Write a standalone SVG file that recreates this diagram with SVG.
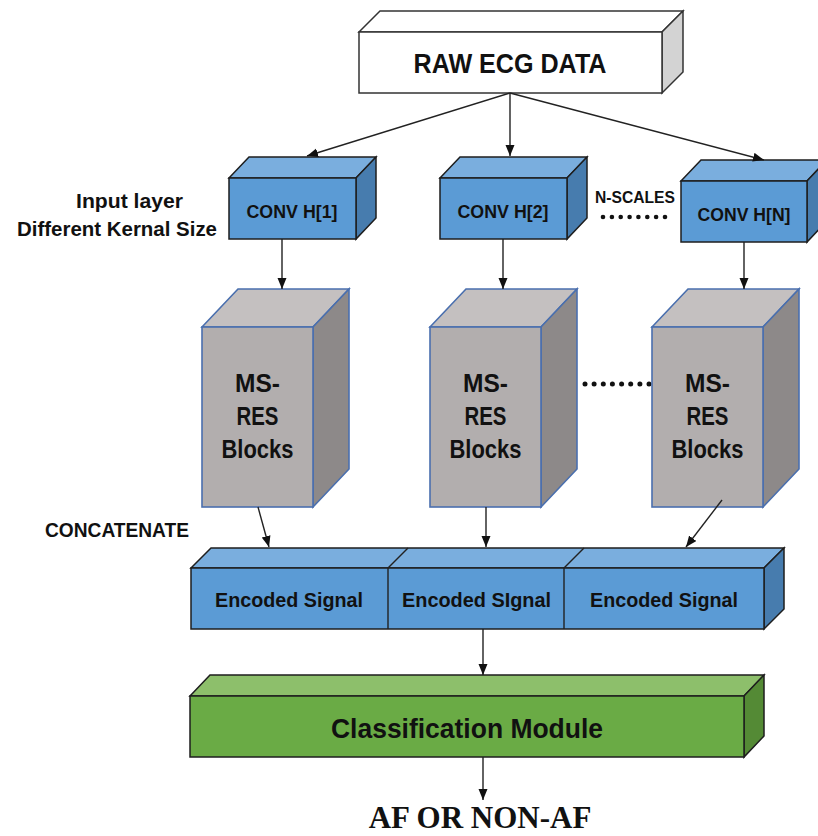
<svg xmlns="http://www.w3.org/2000/svg" width="818" height="836" viewBox="0 0 818 836">
  <style>
    .lbl { font-family: "Liberation Sans", Arial, sans-serif; font-weight: bold; fill: #111; }
    .serif { font-family: "Liberation Serif", "Times New Roman", serif; font-weight: bold; fill: #111; }
    .edge { stroke: #222; stroke-width: 1.4; fill: none; }
    .w-front { fill: #ffffff; stroke: #333; stroke-width: 1.5; }
    .w-top { fill: #ffffff; stroke: #333; stroke-width: 1.5; }
    .w-side { fill: #d3d3d3; stroke: #333; stroke-width: 1.5; }
    .b-front { fill: #5b9bd5; stroke: #1e1e1e; stroke-width: 1.5; }
    .b-top { fill: #7aaede; stroke: #1e1e1e; stroke-width: 1.5; }
    .b-side { fill: #477cae; stroke: #1e1e1e; stroke-width: 1.5; }
    .g-front { fill: #6aab45; stroke: #1e1e1e; stroke-width: 1.5; }
    .g-top { fill: #8dbf6b; stroke: #1e1e1e; stroke-width: 1.5; }
    .g-side { fill: #548a35; stroke: #1e1e1e; stroke-width: 1.5; }
    .m-front { fill: #b2aeae; stroke: #4a6fae; stroke-width: 1.6; }
    .m-top { fill: #c4c0c0; stroke: #4a6fae; stroke-width: 1.6; }
    .m-side { fill: #8d8989; stroke: #4a6fae; stroke-width: 1.6; }
    .dot { fill: #111; }
  </style>
  <defs>
    <marker id="arrow" markerUnits="userSpaceOnUse" markerWidth="12" markerHeight="10" refX="11" refY="4.5" orient="auto">
      <path d="M0,0 L11,4.5 L0,9 z" fill="#111"/>
    </marker>
  </defs>

  <rect width="818" height="836" fill="#ffffff"/>

  <!-- input box -->
  <g id="raw-ecg">
    <polygon class="w-top" points="359,32 380,11 683,11 662,32"/>
    <polygon class="w-side" points="662,32 683,11 683,72 662,93"/>
    <rect class="w-front" x="359" y="32" width="303" height="61"/>
    <text class="lbl" x="510" y="73" font-size="27" text-anchor="middle" textLength="193" lengthAdjust="spacingAndGlyphs">RAW ECG DATA</text>
  </g>

  <!-- convolution heads -->
  <g id="conv-h1">
    <polygon class="b-top" points="229,178 249,157 376,157 356,178"/>
    <polygon class="b-side" points="356,178 376,157 376,218 356,239"/>
    <rect class="b-front" x="229" y="178" width="127" height="61"/>
    <text class="lbl" x="292" y="218" font-size="18.5" text-anchor="middle" textLength="91" lengthAdjust="spacingAndGlyphs">CONV H[1]</text>
  </g>
  <g id="conv-h2">
    <polygon class="b-top" points="440,178 460,157 587,157 567,178"/>
    <polygon class="b-side" points="567,178 587,157 587,218 567,239"/>
    <rect class="b-front" x="440" y="178" width="127" height="61"/>
    <text class="lbl" x="503" y="218" font-size="18.5" text-anchor="middle" textLength="91" lengthAdjust="spacingAndGlyphs">CONV H[2]</text>
  </g>
  <g id="conv-hn">
    <polygon class="b-top" points="681,181 701,160 827,160 807,181"/>
    <polygon class="b-side" points="807,181 827,160 827,221 807,242"/>
    <rect class="b-front" x="681" y="181" width="126" height="61"/>
    <text class="lbl" x="744" y="221" font-size="18.5" text-anchor="middle" textLength="93" lengthAdjust="spacingAndGlyphs">CONV H[N]</text>
  </g>

  <!-- side labels -->
  <g id="labels">
    <text class="lbl" x="129.5" y="208" font-size="20" text-anchor="middle" textLength="107" lengthAdjust="spacingAndGlyphs">Input layer</text>
    <text class="lbl" x="117" y="236" font-size="20" text-anchor="middle" textLength="200" lengthAdjust="spacingAndGlyphs">Different Kernal Size</text>
    <text class="lbl" x="635" y="203" font-size="16.5" text-anchor="middle" textLength="80" lengthAdjust="spacingAndGlyphs">N-SCALES</text>
    <g class="dot">
      <circle cx="603" cy="217" r="2.3"/><circle cx="611.9" cy="217" r="2.3"/><circle cx="620.7" cy="217" r="2.3"/><circle cx="629.6" cy="217" r="2.3"/>
      <circle cx="638.4" cy="217" r="2.3"/><circle cx="647.3" cy="217" r="2.3"/><circle cx="656.1" cy="217" r="2.3"/><circle cx="665" cy="217" r="2.3"/>
    </g>
    <text class="lbl" x="45" y="537" font-size="19.5" textLength="144" lengthAdjust="spacingAndGlyphs">CONCATENATE</text>
    <g class="dot">
      <circle cx="585" cy="384" r="2.5"/><circle cx="594.1" cy="384" r="2.5"/><circle cx="603.3" cy="384" r="2.5"/><circle cx="612.4" cy="384" r="2.5"/>
      <circle cx="621.6" cy="384" r="2.5"/><circle cx="630.7" cy="384" r="2.5"/><circle cx="639.9" cy="384" r="2.5"/><circle cx="649" cy="384" r="2.5"/>
    </g>
  </g>

  <!-- residual block stacks -->
  <g id="msres-1">
    <polygon class="m-top" points="202,327 238,289 349,289 313,327"/>
    <polygon class="m-side" points="313,327 349,289 349,469 313,507"/>
    <rect class="m-front" x="202" y="327" width="111" height="180"/>
    <text class="lbl" x="257.5" y="392" font-size="25" text-anchor="middle" textLength="45" lengthAdjust="spacingAndGlyphs">MS-</text>
    <text class="lbl" x="257.5" y="425" font-size="25" text-anchor="middle" textLength="42" lengthAdjust="spacingAndGlyphs">RES</text>
    <text class="lbl" x="257.5" y="458" font-size="25" text-anchor="middle" textLength="72" lengthAdjust="spacingAndGlyphs">Blocks</text>
  </g>
  <g id="msres-2">
    <polygon class="m-top" points="430,327 466,289 577,289 541,327"/>
    <polygon class="m-side" points="541,327 577,289 577,469 541,507"/>
    <rect class="m-front" x="430" y="327" width="111" height="180"/>
    <text class="lbl" x="485.5" y="392" font-size="25" text-anchor="middle" textLength="45" lengthAdjust="spacingAndGlyphs">MS-</text>
    <text class="lbl" x="485.5" y="425" font-size="25" text-anchor="middle" textLength="42" lengthAdjust="spacingAndGlyphs">RES</text>
    <text class="lbl" x="485.5" y="458" font-size="25" text-anchor="middle" textLength="72" lengthAdjust="spacingAndGlyphs">Blocks</text>
  </g>
  <g id="msres-n">
    <polygon class="m-top" points="652,327 688,289 799,289 763,327"/>
    <polygon class="m-side" points="763,327 799,289 799,469 763,507"/>
    <rect class="m-front" x="652" y="327" width="111" height="180"/>
    <text class="lbl" x="707.5" y="392" font-size="25" text-anchor="middle" textLength="45" lengthAdjust="spacingAndGlyphs">MS-</text>
    <text class="lbl" x="707.5" y="425" font-size="25" text-anchor="middle" textLength="42" lengthAdjust="spacingAndGlyphs">RES</text>
    <text class="lbl" x="707.5" y="458" font-size="25" text-anchor="middle" textLength="72" lengthAdjust="spacingAndGlyphs">Blocks</text>
  </g>

  <!-- concatenated encoding bar -->
  <g id="encoded">
    <polygon class="b-top" points="191,568 211,548 784,548 764,568"/>
    <polygon class="b-side" points="764,568 784,548 784,609 764,629"/>
    <rect class="b-front" x="191" y="568" width="573" height="61"/>
    <line class="edge" x1="388" y1="568" x2="408" y2="548" stroke="#1e1e1e"/>
    <line class="edge" x1="564" y1="568" x2="584" y2="548" stroke="#1e1e1e"/>
    <line class="edge" x1="388" y1="568" x2="388" y2="629" stroke="#1e1e1e"/>
    <line class="edge" x1="564" y1="568" x2="564" y2="629" stroke="#1e1e1e"/>
    <text class="lbl" x="289" y="607" font-size="21" text-anchor="middle" textLength="148" lengthAdjust="spacingAndGlyphs">Encoded Signal</text>
    <text class="lbl" x="476.5" y="607" font-size="21" text-anchor="middle" textLength="149" lengthAdjust="spacingAndGlyphs">Encoded SIgnal</text>
    <text class="lbl" x="664" y="607" font-size="21" text-anchor="middle" textLength="148" lengthAdjust="spacingAndGlyphs">Encoded Signal</text>
  </g>

  <!-- classifier -->
  <g id="classifier">
    <polygon class="g-top" points="190,696 210,675 764,675 744,696"/>
    <polygon class="g-side" points="744,696 764,675 764,736 744,757"/>
    <rect class="g-front" x="190" y="696" width="554" height="61"/>
    <text class="lbl" x="467" y="738" font-size="28" text-anchor="middle" textLength="272" lengthAdjust="spacingAndGlyphs">Classification Module</text>
  </g>

  <g id="output">
    <text class="serif" x="480" y="828" font-size="31" text-anchor="middle">AF OR NON-AF</text>
  </g>

  <!-- connectors -->
  <g id="connectors" class="edge">
    <line x1="510" y1="93" x2="307" y2="156" marker-end="url(#arrow)"/>
    <line x1="510" y1="93" x2="510" y2="156" marker-end="url(#arrow)"/>
    <line x1="510" y1="93" x2="764" y2="160" marker-end="url(#arrow)"/>
    <line x1="282" y1="239" x2="282" y2="289" marker-end="url(#arrow)"/>
    <line x1="503" y1="239" x2="503" y2="289" marker-end="url(#arrow)"/>
    <line x1="744" y1="242" x2="744" y2="289" marker-end="url(#arrow)"/>
    <line x1="258" y1="507" x2="269" y2="547" marker-end="url(#arrow)"/>
    <line x1="486" y1="507" x2="486" y2="547" marker-end="url(#arrow)"/>
    <line x1="722" y1="500" x2="686" y2="547" marker-end="url(#arrow)"/>
    <line x1="483" y1="629" x2="483" y2="675" marker-end="url(#arrow)"/>
    <line x1="483" y1="757" x2="483" y2="800" marker-end="url(#arrow)"/>
  </g>
</svg>
